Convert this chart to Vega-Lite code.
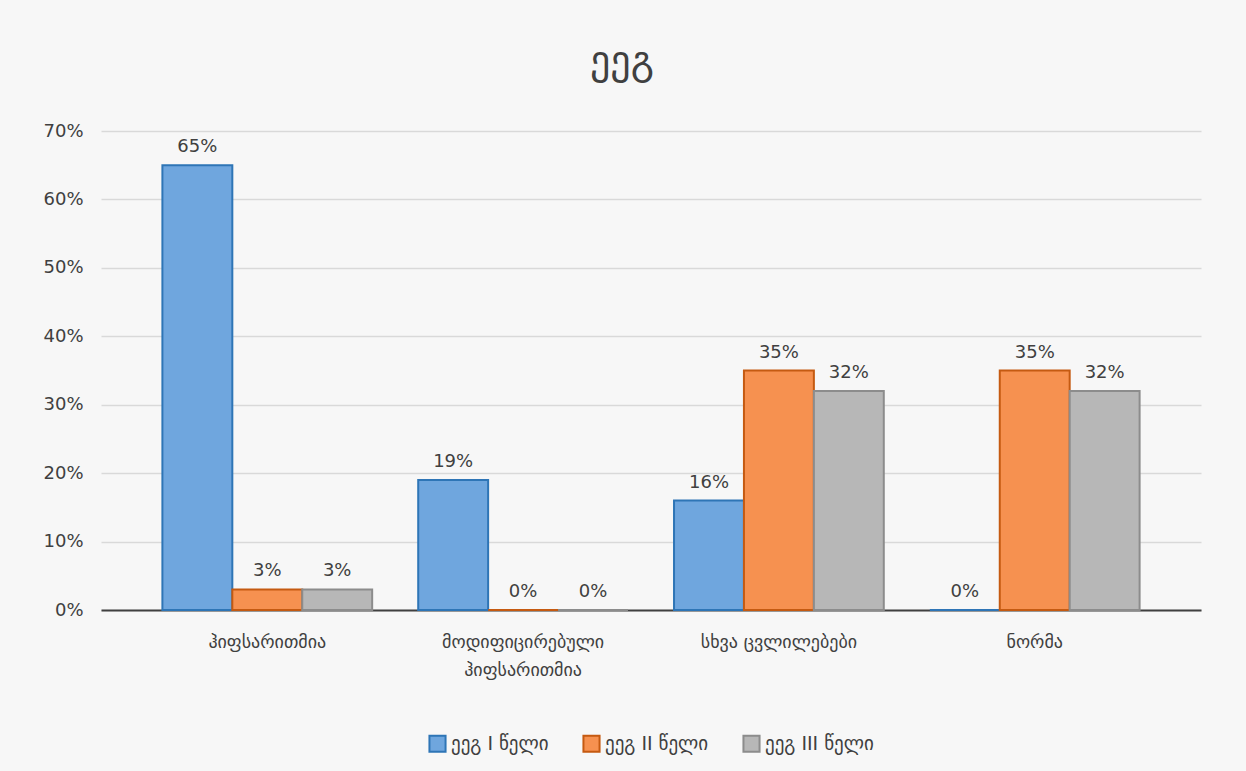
{
  "$schema": "https://vega.github.io/schema/vega-lite/v6.json",
  "width": 1246,
  "height": 771,
  "autosize": {"type": "fit", "contains": "padding"},
  "padding": {"left": 42, "right": 45, "top": 42, "bottom": 15},
  "background": "#f7f7f7",
  "title": {
    "text": "ეეგ",
    "fontSize": 40,
    "font": "DejaVu Sans",
    "fontWeight": "normal",
    "color": "#404040",
    "offset": 40,
    "frame": "bounds"
  },
  "config": {
    "view": {"stroke": null},
    "font": "DejaVu Sans",
    "legend": {"layout": {"bottom": {"anchor": "middle"}}}
  },
  "data": {
    "values": [
      {"category": "ჰიფსარითმია", "series": "ეეგ I წელი", "value": 0.65},
      {"category": "ჰიფსარითმია", "series": "ეეგ II წელი", "value": 0.03},
      {"category": "ჰიფსარითმია", "series": "ეეგ III წელი", "value": 0.03},
      {"category": "მოდიფიცირებული ჰიფსარითმია", "series": "ეეგ I წელი", "value": 0.19},
      {"category": "მოდიფიცირებული ჰიფსარითმია", "series": "ეეგ II წელი", "value": 0.0},
      {"category": "მოდიფიცირებული ჰიფსარითმია", "series": "ეეგ III წელი", "value": 0.0},
      {"category": "სხვა ცვლილებები", "series": "ეეგ I წელი", "value": 0.16},
      {"category": "სხვა ცვლილებები", "series": "ეეგ II წელი", "value": 0.35},
      {"category": "სხვა ცვლილებები", "series": "ეეგ III წელი", "value": 0.32},
      {"category": "ნორმა", "series": "ეეგ I წელი", "value": 0.0},
      {"category": "ნორმა", "series": "ეეგ II წელი", "value": 0.35},
      {"category": "ნორმა", "series": "ეეგ III წელი", "value": 0.32}
    ]
  },
  "encoding": {
    "x": {
      "field": "category",
      "type": "nominal",
      "sort": null,
      "scale": {"paddingInner": 0.18, "paddingOuter": 0.24},
      "axis": {
        "title": null,
        "labelAngle": 0,
        "labelFontSize": 18,
        "labelColor": "#404040",
        "labelPadding": 23,
        "ticks": false,
        "domainColor": "#404040",
        "domainWidth": 2,
        "labelExpr": "datum.label == 'მოდიფიცირებული ჰიფსარითმია' ? ['მოდიფიცირებული', 'ჰიფსარითმია'] : datum.label",
        "labelLineHeight": 28
      }
    },
    "xOffset": {"field": "series", "type": "nominal", "sort": null},
    "y": {
      "field": "value",
      "type": "quantitative",
      "scale": {"domain": [0, 0.7]},
      "axis": {
        "title": null,
        "format": ".0%",
        "tickCount": 7,
        "labelFontSize": 18,
        "labelColor": "#404040",
        "labelPadding": 18,
        "ticks": false,
        "domain": false,
        "gridColor": "#d9d9d9",
        "gridWidth": 1.5
      }
    }
  },
  "layer": [
    {
      "mark": {"type": "bar", "strokeWidth": 2},
      "encoding": {
        "color": {
          "field": "series",
          "type": "nominal",
          "sort": null,
          "scale": {"range": ["#6fa6de", "#f69150", "#b7b7b7"]},
          "legend": {
            "title": null,
            "orient": "bottom",
            "direction": "horizontal",
            "symbolType": "square",
            "symbolSize": 260,
            "symbolStrokeWidth": 2,
            "labelFontSize": 19,
            "labelColor": "#404040",
            "columnPadding": 30,
            "offset": 55
          }
        },
        "stroke": {
          "field": "series",
          "type": "nominal",
          "sort": null,
          "scale": {"range": ["#2e75b6", "#c55a11", "#8c8c8c"]},
          "legend": null
        }
      }
    },
    {
      "mark": {"type": "text", "dy": -18, "fontSize": 18, "color": "#404040"},
      "encoding": {
        "text": {"field": "value", "type": "quantitative", "format": ".0%"}
      }
    }
  ]
}
